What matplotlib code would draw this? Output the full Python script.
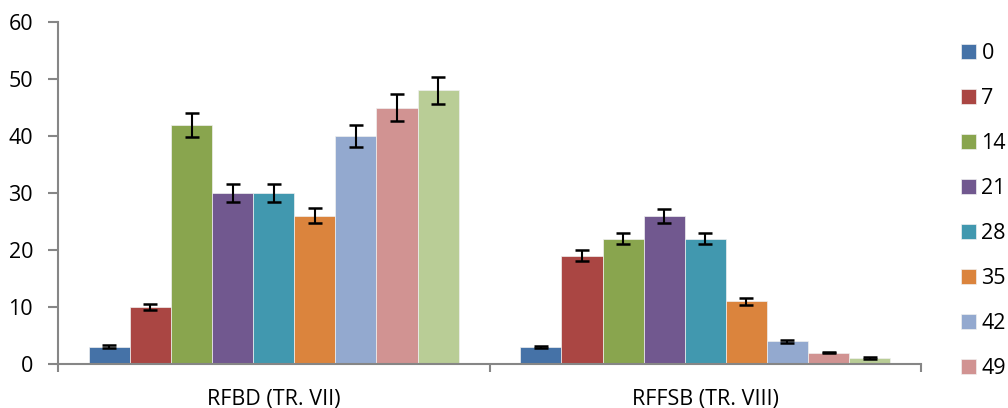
import matplotlib
matplotlib.use("Agg")
import matplotlib.pyplot as plt
import numpy as np

plt.rcParams['font.family'] = ['Open Sans', 'DejaVu Sans']

categories = ["RFBD (TR. VII)", "RFFSB (TR. VIII)"]
series_labels = ["0", "7", "14", "21", "28", "35", "42", "49", "56"]
values = [
    [3, 3],
    [10, 19],
    [42, 22],
    [30, 26],
    [30, 22],
    [26, 11],
    [40, 4],
    [45, 2],
    [48, 1],
]
errors = [
    [0.25, 0.2],
    [0.5, 1.0],
    [2.1, 1.0],
    [1.5, 1.2],
    [1.5, 1.0],
    [1.3, 0.6],
    [2.0, 0.25],
    [2.3, 0.15],
    [2.4, 0.15],
]
colors = ["#4572A7", "#AA4643", "#89A54E", "#71588F", "#4198AF",
          "#DB843D", "#93A9CF", "#D19392", "#B9CD96"]

fig = plt.figure(figsize=(10.08, 4.08), dpi=100)
ax = fig.add_axes([58/1008, 1-364/408, (921-58)/1008, (364-22)/408])

n = len(series_labels)
group_w = 0.857
bw = group_w / n
x = np.arange(len(categories))
handles = []
for i in range(n):
    pos = x - group_w/2 + bw*(i+0.5)
    b = ax.bar(pos, values[i], bw, color=colors[i], edgecolor='#f0f0f0', linewidth=0.5,
               label=series_labels[i], zorder=2)
    handles.append(b)
    ax.errorbar(pos, values[i], yerr=errors[i], fmt='none', ecolor='black',
                elinewidth=1.5, capsize=5, capthick=1.8, zorder=3)

ax.set_xlim(-0.5, 1.5)
ax.set_ylim(0, 60)
ax.set_yticks(range(0, 61, 10))
ax.set_xticks([-0.5, 0.5, 1.5])
ax.set_xticklabels([])
ax.set_xticks(x, minor=True)
ax.set_xticklabels(categories, minor=True)
ax.tick_params(axis='x', which='minor', length=0, pad=18, labelsize=15.5)
ax.tick_params(axis='x', which='major', length=6, width=1.5, color='#868686', direction='out')
ax.tick_params(axis='y', length=7, width=1.5, color='#868686', direction='out', labelsize=15.5, pad=11)
for s in ['top', 'right']:
    ax.spines[s].set_visible(False)
for s in ['left', 'bottom']:
    ax.spines[s].set_color('#868686')
    ax.spines[s].set_linewidth(1.5)

# legend is truncated at the bottom edge in the reference (last entry not visible)
leg = fig.legend(handles[:8], series_labels[:8], loc='upper left',
                 bbox_to_anchor=(952/1008, 1-34.5/408), frameon=False,
                 fontsize=15.5, labelspacing=1.115, handlelength=0.7, handleheight=0.7,
                 handletextpad=0.27, borderaxespad=0)

fig.savefig("out.png", dpi=100)
